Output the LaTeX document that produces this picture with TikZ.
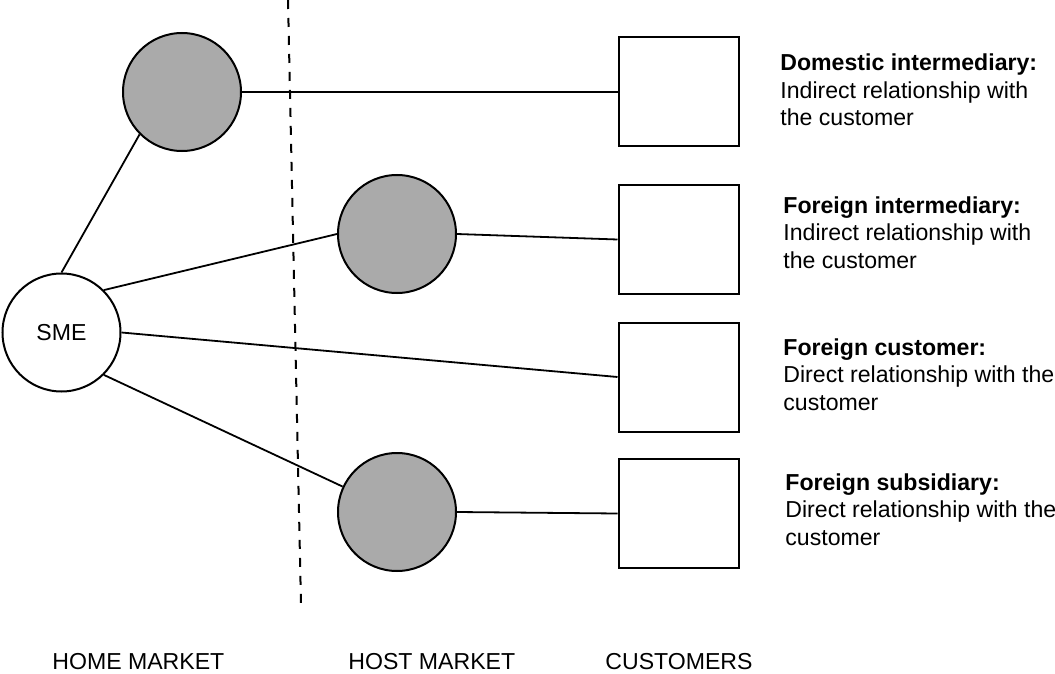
\documentclass[tikz,border=0pt]{standalone}
\usepackage{fontspec}
\setmainfont{Liberation Sans}
\usepackage{tikz}
\usetikzlibrary{positioning}
\definecolor{actorfill}{RGB}{170,170,170}
\newcommand{\modetext}[2]{\textbf{#1}\\#2}

\begin{document}
\begin{tikzpicture}[x=0.5pt,y=-0.5pt,
  font=\fontsize{11.55}{13.75}\selectfont,
  firm/.style={draw,circle,line width=1pt,minimum size=59pt,inner sep=0pt},
  actor/.style={firm,fill=actorfill},
  buyer/.style={draw,rectangle,line width=1pt,minimum width=60pt,minimum height=54.5pt,inner sep=0pt},
  link/.style={line width=0.9pt},
  modelabel/.style={anchor=base west,align=left,inner sep=0pt}]
\useasboundingbox (0,0) rectangle (1055,674);
% market border
\draw[line width=1pt,dash pattern=on 4.5pt off 4.5pt] (288,0) -- (301,605);
% firm and the four entry modes
\node[firm] (sme) at (61.5,332.5) {SME};
\node[actor] (domint) at (182,92) {};
\node[actor] (forint) at (397,234) {};
\node[actor] (forsub) at (397,512) {};
\node[buyer] (cust1) at (678.5,92) {};
\node[buyer] (cust2) at (678.5,239.5) {};
\node[buyer] (cust3) at (678.5,377) {};
\node[buyer] (cust4) at (678.5,513.5) {};
\draw[link] (sme.north) -- (domint.225);
\draw[link] (sme.north east) -- (forint.west);
\draw[link] (sme.east) -- (cust3.west);
\draw[link] (sme.south east) -- (forsub);
\draw[link] (domint.east) -- (cust1.west);
\draw[link] (forint.east) -- (cust2.west);
\draw[link] (forsub.east) -- (cust4.west);
% descriptions (base = last line)
\node[modelabel] (desc1) at (780,126) {\modetext{Domestic intermediary:}{Indirect relationship with\\the customer}};
\node[modelabel] (desc2) at (783,268) {\modetext{Foreign intermediary:}{Indirect relationship with\\the customer}};
\node[modelabel] (desc3) at (783,410) {\modetext{Foreign customer:}{Direct relationship with the\\customer}};
\node[modelabel] (desc4) at (785,545) {\modetext{Foreign subsidiary:}{Direct relationship with the\\customer}};
% column headings
\node[anchor=base west,inner sep=0pt] (home) at (52,669) {HOME MARKET};
\node[anchor=base west,inner sep=0pt] (host) at (348,669) {HOST MARKET};
\node[anchor=base west,inner sep=0pt] (custs) at (605,669) {CUSTOMERS};
\end{tikzpicture}
\end{document}
